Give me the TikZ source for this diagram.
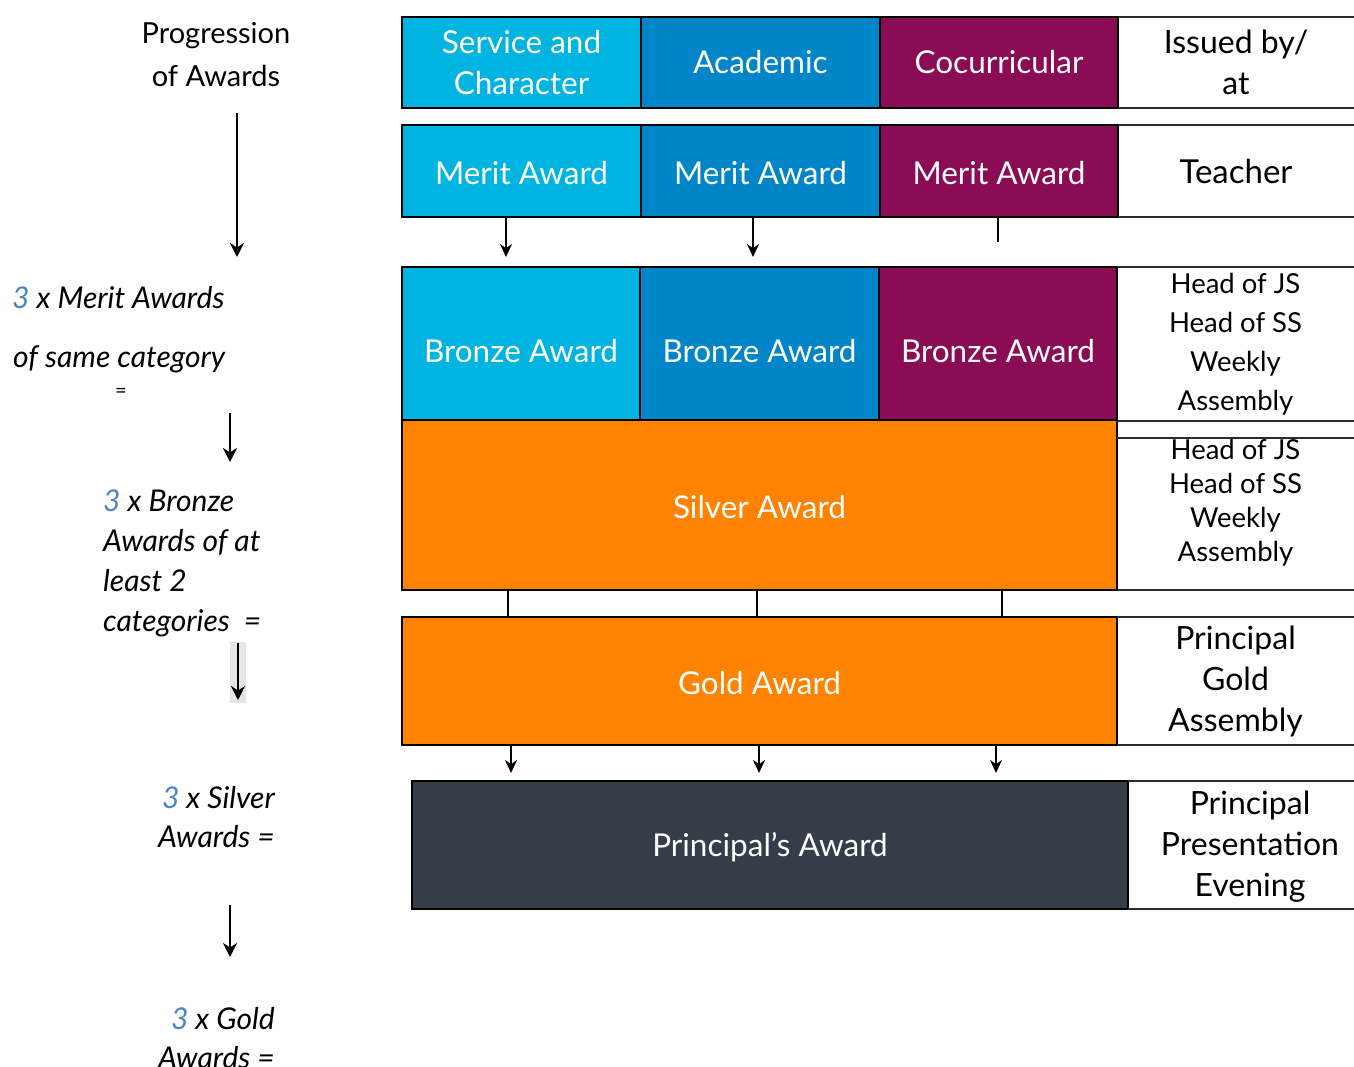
\documentclass[tikz,border=0pt]{standalone}
\usepackage{fontspec}
\setmainfont{Lato}
\usetikzlibrary{arrows.meta}
\definecolor{service}{HTML}{00B4E1}
\definecolor{academic}{HTML}{0086C8}
\definecolor{cocurr}{HTML}{8A0C55}
\definecolor{medal}{HTML}{FF8200}
\definecolor{slate}{HTML}{353E48}
\definecolor{countblue}{HTML}{4A86C8}
\definecolor{rule}{HTML}{2B2B2B}
\tikzset{
  cell/.style={draw=black, line width=1.6pt, inner sep=0pt, outer sep=0pt,
    text=white, align=center, font=\fontsize{31.5}{41}\selectfont},
  issued/.style={inner sep=0pt, outer sep=0pt, text=black, align=center,
    font=\fontsize{32}{41}\selectfont},
  rowline/.style={draw=rule, line width=1.3pt},
  link/.style={draw=black, line width=2.6pt},
  down/.style={link, -{Stealth[length=13pt,width=12pt]}},
  progress/.style={draw=black, line width=2.5pt, -{Stealth[length=14pt,width=14pt]}},
  note/.style={inner sep=0pt, text=black, font=\fontsize{30}{40}\selectfont\itshape}
}
\newcommand{\Count}{\textcolor{countblue}{3}}
% shifts the text, keeps the size of its box
\newcommand{\Offset}[3]{\raisebox{#2}[\height][\depth]{\hspace*{#1}#3\hspace*{-#1}}}
\newcommand{\Lines}[1]{\begin{tabular}{@{}c@{}}#1\end{tabular}}
% name, style, x1, y1, x2, y2, text
\newcommand{\AwardCell}[7]{%
  \node[#2, minimum width={#5pt-#3pt}, minimum height={#6pt-#4pt}]
    (#1) at ({(#3+#5)/2},{(#4+#6)/2}) {#7};
}
\newcommand{\RowLines}[1]{%
  \draw[rowline] (#1.north west) -- (#1.north east)
                 (#1.south west) -- (#1.south east);
}

\begin{document}
\begin{tikzpicture}[x=1pt, y=-1pt]
  \useasboundingbox (0,0) rectangle (1354,1066);

  % categories
  \AwardCell{hService}{cell, fill=service}{402}{17}{641}{108}{Service and\\Character}
  \AwardCell{hAcademic}{cell, fill=academic}{641}{17}{880}{108}{Academic}
  \AwardCell{hCocurr}{cell, fill=cocurr}{880}{17}{1118}{108}{Cocurricular}
  \AwardCell{hIssued}{issued}{1118}{17}{1354}{108}{Issued by/\\at}

  % merit
  \AwardCell{mService}{cell, fill=service}{402}{125}{641}{217}{\Offset{0pt}{-2pt}{Merit Award}}
  \AwardCell{mAcademic}{cell, fill=academic}{641}{125}{880}{217}{\Offset{0pt}{-2pt}{Merit Award}}
  \AwardCell{mCocurr}{cell, fill=cocurr}{880}{125}{1118}{217}{\Offset{0pt}{-2pt}{Merit Award}}
  \AwardCell{mIssued}{issued, font=\fontsize{33}{41}\selectfont}{1118}{125}{1354}{217}{Teacher}

  % bronze
  \AwardCell{bService}{cell, fill=service}{402}{267}{640}{420}{\Offset{0pt}{-8pt}{Bronze Award}}
  \AwardCell{bAcademic}{cell, fill=academic}{640}{267}{879}{420}{\Offset{0pt}{-8pt}{Bronze Award}}
  \AwardCell{bCocurr}{cell, fill=cocurr}{879}{267}{1117}{420}{\Offset{0pt}{-8pt}{Bronze Award}}
  \AwardCell{bIssued}{issued, font=\fontsize{27.5}{39}\selectfont}{1117}{267}{1354}{421}{Head of JS\\Head of SS\\Weekly\\Assembly}

  % silver and gold
  \AwardCell{silver}{cell, fill=medal}{402}{420}{1117}{590}{\Offset{0pt}{-2pt}{Silver Award}}
  \AwardCell{sIssued}{issued, font=\fontsize{27.5}{34}\selectfont}{1117}{438}{1354}{590}{\Offset{0pt}{10pt}{\Lines{Head of JS\\Head of SS\\Weekly\\Assembly}}}
  \AwardCell{gold}{cell, fill=medal}{402}{617}{1117}{745}{\Offset{0pt}{-2pt}{Gold Award}}
  \AwardCell{gIssued}{issued}{1117}{617}{1354}{745}{Principal\\Gold\\Assembly}

  % principal
  \AwardCell{princ}{cell, fill=slate}{412}{781}{1128}{909}{\Offset{0pt}{-2pt}{Principal’s Award}}
  \AwardCell{pIssued}{issued}{1128}{781}{1354}{909}{\Offset{9pt}{-2pt}{\Lines{Principal\\Presentation\\Evening}}}

  \RowLines{hIssued}
  \RowLines{mIssued}
  \RowLines{bIssued}
  \RowLines{sIssued}
  \RowLines{gIssued}
  \RowLines{pIssued}

  % merit -> bronze
  \foreach \a/\b/\dx in {mService/bService/-15.5, mAcademic/bAcademic/-7.5}
    \draw[down, shorten >=10pt] ([xshift=\dx pt]\a.south) -- ([xshift=\dx pt]\a.south |- \b.north);
  \draw[link, shorten >=25pt] ([xshift=-1pt]mCocurr.south) -- ([xshift=-1pt]mCocurr.south |- bCocurr.north);

  % silver -> gold
  \foreach \dx in {-251.5, -2.5, 242.5}
    \draw[link] ([xshift=\dx pt]silver.south) -- ([xshift=\dx pt]gold.north);

  % gold -> principal
  \foreach \dx in {-248.5, -0.5, 236.5}
    \draw[down, shorten >=8pt] ([xshift=\dx pt]gold.south) -- ([xshift=\dx pt]gold.south |- princ.north);

  % progression column
  \node[inner sep=0pt, align=center, font=\fontsize{29}{43}\selectfont] (title) at (216,55) {Progression\\of Awards};
  \node[note, anchor=base west] (meritNote) at (12,308) {\Count{} x Merit Awards};
  \node[note, anchor=base west] (meritCat) at (13,367) {of same category};
  \node[note, font=\fontsize{20}{20}\selectfont] (meritEq) at (121,393) {=};
  \node[note, anchor=west, align=left] (bronzeNote) at (103,563) {\Count{} x Bronze\\Awards of at\\least 2\\categories \ =};
  \node[note, anchor=east, align=right, font=\fontsize{30}{39}\selectfont\itshape] (silverNote) at (275,817) {\Count{} x Silver\\Awards =};
  \node[note, anchor=east, align=right, font=\fontsize{30}{39}\selectfont\itshape] (goldNote) at (275,1038) {\Count{} x Gold\\Awards =};

  \coordinate (arrA) at (237,113);
  \coordinate (arrB) at (237,257);
  \coordinate (arrC) at (230,413);
  \coordinate (arrD) at (230,462);
  \coordinate (arrE) at (238,643);
  \coordinate (arrF) at (238,700);
  \coordinate (arrG) at (230,905);
  \coordinate (arrH) at (230,957);

  \fill[black!10] (230,642) rectangle (246,703);
  \draw[progress] (arrA) -- (arrB);
  \draw[progress] (arrC) -- (arrD);
  \draw[progress] (arrE) -- (arrF);
  \draw[progress] (arrG) -- (arrH);
\end{tikzpicture}
\end{document}
